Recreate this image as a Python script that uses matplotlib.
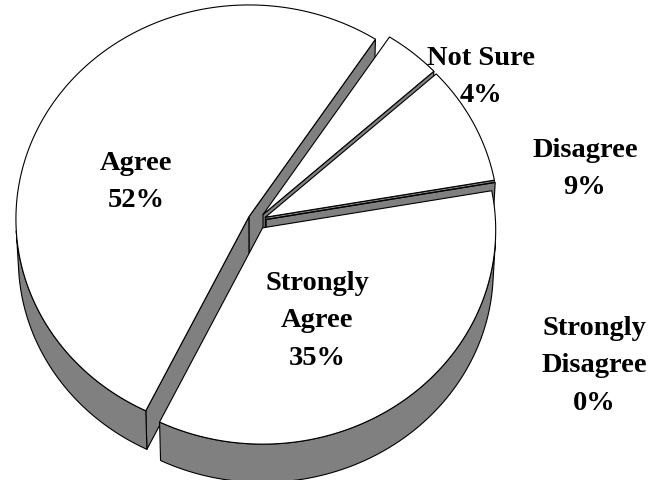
import numpy as np
import matplotlib
matplotlib.use('Agg')
import matplotlib.pyplot as plt
from matplotlib.patches import Polygon

# Données du sondage (ordre des parts dans le sens horaire)
categories = ['Strongly Agree', 'Agree', 'Not Sure', 'Disagree', 'Strongly Disagree']
values = [35, 52, 4, 9, 0]
label_lines = [['Strongly', 'Agree', '35%'],
               ['Agree', '52%'],
               ['Not Sure', '4%'],
               ['Disagree', '9%'],
               ['Strongly', 'Disagree', '0%']]

# Position des étiquettes (centre x, ligne de base de la 1re ligne) en pixels
label_pos = [(317, 290), (136, 170), (481, 65), (585, 157), (594, 335)]
line_step = 37.5

# Paramètres de la vue 3D
W, H = 659, 481
cx, cy = 257, 222          # projection du centre du camembert
S = 233                    # rayon à l'écran (px)
theta = np.radians(66.7)   # élévation
D = 40.0                   # distance de la caméra (perspective légère)
thick = 0.44               # épaisseur du disque
explode = 0.04
start = 10.0               # angle de départ (degrés, sens trigo)
st, ct = np.sin(theta), np.cos(theta)
cam = D * np.array([0.0, -ct, st])

GRAY = '#808080'
LW = 0.8


def proj(P):
    P = np.atleast_2d(P)
    X, Y, Z = P[:, 0], P[:, 1], P[:, 2]
    depth = D + Y * ct - Z * st
    yc = Y * st + Z * ct
    return np.column_stack([cx + S * X * D / depth, cy - S * yc * D / depth])


def facing(P, n):
    return np.dot(cam - P, n) > 0


fig = plt.figure(figsize=(W / 100, H / 100), dpi=100)
ax = fig.add_axes([0, 0, 1, 1])
ax.set_xlim(0, W)
ax.set_ylim(H, 0)
ax.axis('off')

walls = []   # (profondeur, polygone)
tops = []

angle_hi = start
for val in values:
    a_hi = angle_hi
    a_lo = a_hi - val * 3.6
    angle_hi = a_lo
    mid = np.radians((a_lo + a_hi) / 2)
    off = explode * np.array([np.cos(mid), np.sin(mid), 0.0])
    phis = np.radians(np.linspace(a_lo, a_hi, max(2, int(val * 8) + 2)))
    rim = np.column_stack([np.cos(phis), np.sin(phis), np.zeros_like(phis)]) + off
    low = rim + np.array([0, 0, -thick])
    apex = off
    apex_low = off + np.array([0, 0, -thick])

    # face supérieure
    tops.append(proj(np.vstack([apex, rim])))

    # paroi extérieure (parties visibles seulement)
    vis = np.array([facing(p, np.array([np.cos(f), np.sin(f), 0])) for p, f in zip(rim, phis)])
    i = 0
    while i < len(vis):
        if vis[i]:
            j = i
            while j + 1 < len(vis) and vis[j + 1]:
                j += 1
            if j > i:
                seg_top = rim[i:j + 1]
                seg_low = low[i:j + 1][::-1]
                poly = np.vstack([seg_top, seg_low])
                walls.append((np.mean(seg_top[:, 1]), proj(poly)))
            i = j + 1
        else:
            i += 1

    # parois radiales
    for a, sgn in ((a_lo, -1), (a_hi, 1)):
        ar = np.radians(a)
        edge = off + np.array([np.cos(ar), np.sin(ar), 0])
        n = np.array([np.cos(ar + sgn * np.pi / 2), np.sin(ar + sgn * np.pi / 2), 0])
        midp = (apex + edge) / 2
        if facing(midp, n):
            poly = np.vstack([apex, edge, edge + [0, 0, -thick], apex_low])
            walls.append((midp[1], proj(poly)))

# peinture : parois du fond vers l'avant, puis faces supérieures
for _, pts in sorted(walls, key=lambda w: -w[0]):
    ax.add_patch(Polygon(pts, closed=True, facecolor=GRAY, edgecolor='black',
                         linewidth=LW, joinstyle='round'))
for pts in tops:
    ax.add_patch(Polygon(pts, closed=True, facecolor='white', edgecolor='black',
                         linewidth=LW, joinstyle='round'))

# étiquettes
for lines, (x, y0) in zip(label_lines, label_pos):
    for k, txt in enumerate(lines):
        ax.text(x, y0 + k * line_step, txt, ha='center', va='baseline',
                fontsize=20.5, fontweight='bold', family='Liberation Serif')

plt.savefig('out.png', dpi=100)
plt.close()
